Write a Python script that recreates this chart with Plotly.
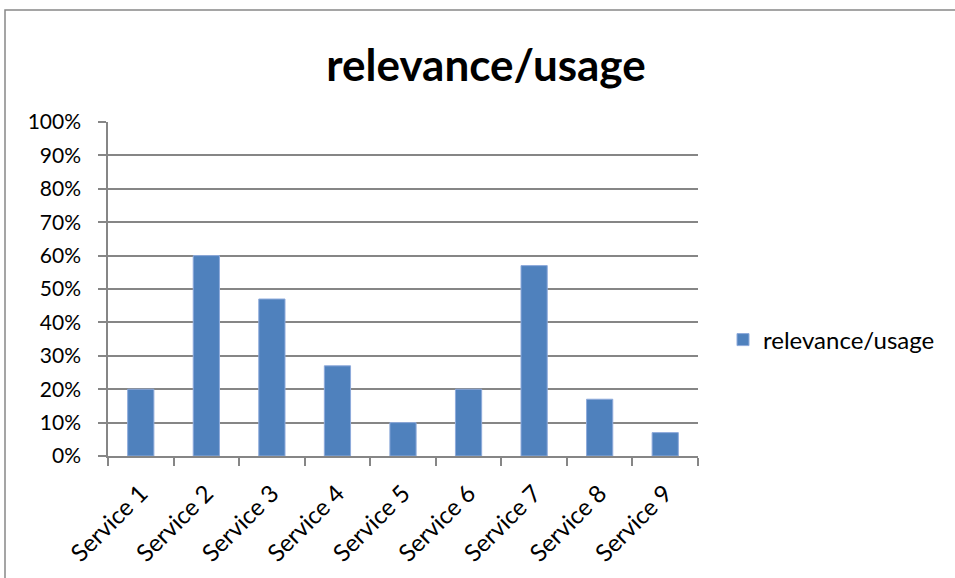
import plotly.graph_objects as go

categories = ["Service 1", "Service 2", "Service 3", "Service 4", "Service 5",
              "Service 6", "Service 7", "Service 8", "Service 9"]
values = [0.20, 0.60, 0.47, 0.27, 0.10, 0.20, 0.57, 0.17, 0.07]
series_name = "relevance/usage"
y_ticks = [i / 10 for i in range(11)]
y_tick_labels = [f"{i*10}%" for i in range(11)]

W, H = 955, 578
L, R, T, B = 108, 698, 122, 456  # plot area in pixels

def px_x(p):
    return (p - L) / (R - L)

def px_y(p):
    return (B - p) / (B - T)

FONT = "Lato"
fig = go.Figure()
fig.add_trace(go.Bar(
    x=categories, y=values, name=series_name,
    marker=dict(color="#4F81BD", line=dict(color="#8EAADB", width=1)),
    showlegend=True,
))

fig.update_layout(
    width=W, height=H,
    paper_bgcolor="white", plot_bgcolor="white",
    margin=dict(l=L, r=W - R, t=T, b=H - B, autoexpand=False),
    bargap=0.6,
    title=dict(text="<b>relevance/usage</b>", x=486 / W, xanchor="center",
               y=1 - 66 / H, yanchor="middle", yref="container",
               font=dict(family=FONT, size=44, color="black")),
    font=dict(family=FONT, size=21, color="black"),
    showlegend=True,
    legend=dict(x=px_x(723), y=px_y(340), xanchor="left", yanchor="middle",
                font=dict(family=FONT, size=24, color="black"),
                bgcolor="rgba(0,0,0,0)", itemwidth=30),
    xaxis=dict(
        tickangle=-45, tickfont=dict(size=24), ticklabelstandoff=12,
        showline=True, linecolor="#868686", linewidth=1.5,
        ticks="outside", tickson="boundaries", ticklen=8, tickcolor="#868686",
        tickwidth=1.5, showgrid=False, zeroline=False,
    ),
    yaxis=dict(
        range=[0, 1], tickvals=y_ticks, ticktext=y_tick_labels,
        tickfont=dict(size=21), ticklabelstandoff=13,
        showline=True, linecolor="#868686", linewidth=1.5,
        ticks="outside", ticklen=8, tickcolor="#868686", tickwidth=1.5,
        showgrid=True, gridcolor="#868686", gridwidth=1.5, zeroline=False,
    ),
    shapes=[dict(type="rect", xref="paper", yref="paper",
                 x0=px_x(5), x1=px_x(970), y0=px_y(600), y1=px_y(10),
                 line=dict(color="#888888", width=1.5), fillcolor="rgba(0,0,0,0)",
                 layer="below")],
)

fig.write_html("out.html")
